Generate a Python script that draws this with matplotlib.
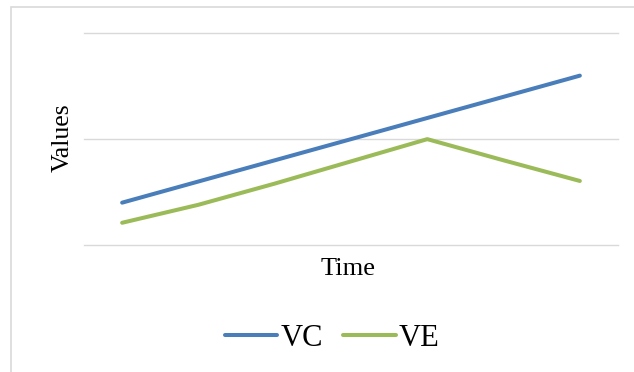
import matplotlib
matplotlib.use("Agg")
import matplotlib.pyplot as plt
from matplotlib.patches import Rectangle

# Series values over seven time steps
time_steps = [1, 2, 3, 4, 5, 6, 7]
vc_values = [0.40, 0.60, 0.80, 1.00, 1.20, 1.40, 1.60]
ve_values = [0.21, 0.38, 0.58, 0.79, 1.00, 0.80, 0.605]
series_names = ["VC", "VE"]

blue = "#4A7EBB"
green = "#9BBB59"
grid_color = "#D9D9D9"
serif = ["Liberation Serif", "DejaVu Serif"]

fig = plt.figure(figsize=(6.34, 3.72), dpi=100)
ax = fig.add_axes([84 / 634, 1 - 245 / 372, 534 / 634, (245 - 33.3) / 372])

x = list(range(len(time_steps)))
l1, = ax.plot(x, vc_values, color=blue, lw=2.9, solid_capstyle="round",
              solid_joinstyle="round", label=series_names[0], zorder=3)
l2, = ax.plot(x, ve_values, color=green, lw=2.9, solid_capstyle="round",
              solid_joinstyle="round", label=series_names[1], zorder=3)

ax.set_xlim(-0.5, len(time_steps) - 0.5)
ax.set_ylim(0, 2)
ax.set_yticks([0, 1, 2])
ax.set_xticks([])
ax.yaxis.grid(True, color=grid_color, lw=1.0)
ax.set_axisbelow(True)
ax.tick_params(left=False, labelleft=False, bottom=False, labelbottom=False)
for gl in ax.get_ygridlines():
    gl.set_clip_on(False)
for s in ax.spines.values():
    s.set_visible(False)

fig.text(63 / 634, 1 - 138 / 372, "Values", rotation=90, ha="center",
         va="center", family=serif, fontsize=18.5)
fig.text(348 / 634, 1 - 275 / 372, "Time", ha="center", va="baseline",
         family=serif, fontsize=19)

leg = fig.legend(handles=[l1, l2], loc="center", ncol=2,
                 bbox_to_anchor=(332 / 634, 1 - 338 / 372), frameon=False,
                 prop={"family": serif, "size": 22}, handlelength=1.73,
                 handletextpad=0.1, columnspacing=0.65, borderpad=0,
                 borderaxespad=0)

# Chart-area border (right and bottom edges fall outside the canvas)
fig.patches.append(Rectangle((11 / 634, -0.1), 1.0, 1 - 7 / 372 + 0.1,
                             transform=fig.transFigure, fill=False,
                             edgecolor=grid_color, lw=1.2))

fig.savefig("out.png", dpi=100)
